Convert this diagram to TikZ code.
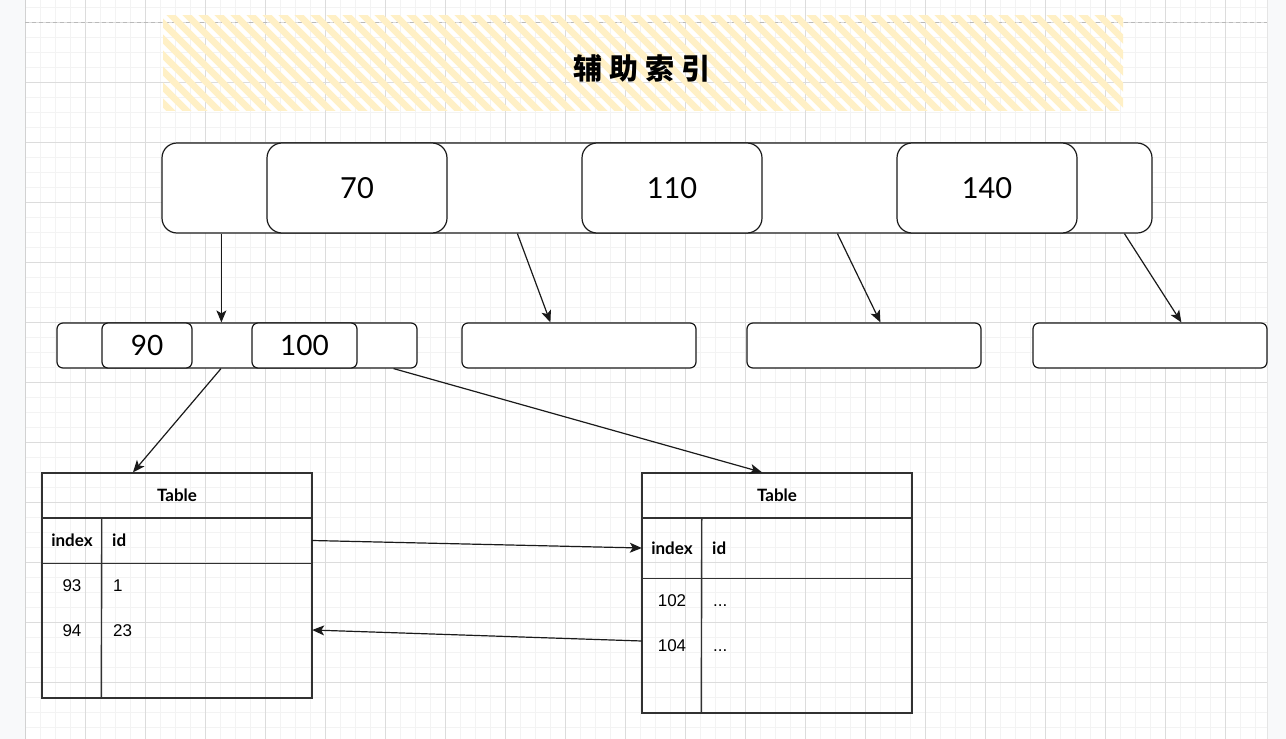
\documentclass[tikz,border=0pt]{standalone}
\usepackage{fontspec}
\setmainfont{Liberation Sans}
\newfontfamily\cjk{Noto Sans CJK SC}
\newfontfamily\sketch{Lato}
\usetikzlibrary{arrows.meta,calc}
\definecolor{gridminor}{HTML}{F3F3F3}
\definecolor{gridmajor}{HTML}{DCDCDC}
\definecolor{hatch}{HTML}{FFF0C6}
\definecolor{side}{HTML}{F8F9FA}
\definecolor{ink}{HTML}{1A1A1A}
\begin{document}
\begin{tikzpicture}[x=1pt,y=-1pt,
  keybox/.style={draw=ink, fill=white, line width=1.2pt, rounded corners=15pt,
    minimum height=90pt, inner sep=0pt, font=\sketch\fontsize{29}{34}\selectfont},
  leafbox/.style={draw=ink, fill=white, line width=1.2pt, rounded corners=6pt,
    minimum height=45pt, inner sep=0pt, font=\sketch\fontsize{28}{32}\selectfont},
  tablebox/.style={draw=ink!90, line width=1.4pt, inner sep=0pt},
  rowbox/.style={inner sep=0pt, minimum width=270pt},
  headtext/.style={font=\sketch\bfseries\fontsize{17}{20}\selectfont, inner sep=0pt},
  celltext/.style={font=\fontsize{17}{20}\selectfont, inner sep=0pt,
    text height=12.2pt, text depth=0pt},
  conn/.style={draw=ink, line width=1.2pt, -{Stealth[length=12pt,width=10pt,inset=3pt]}},
  tline/.style={draw=ink!90, line width=1.4pt}]
\useasboundingbox (0,0) rectangle (1286,739);

% page background and grid
\fill[white] (0,0) rectangle (1286,739);
\begin{scope}
  \clip (25,0) rectangle (1267,739);
  \foreach \x in {25,40,...,1270} \draw[gridminor, line width=0.8pt] (\x,0) -- (\x,739);
  \foreach \y in {7,22,...,745} \draw[gridminor, line width=0.8pt] (25,\y) -- (1267,\y);
  \foreach \x in {25,85,...,1270} \draw[gridmajor, line width=0.8pt] (\x,0) -- (\x,739);
  \foreach \y in {22,82,...,745} \draw[gridmajor, line width=0.8pt] (25,\y) -- (1267,\y);
\end{scope}
\fill[side] (0,0) rectangle (25,739);
\fill[side] (1267,0) rectangle (1286,739);
\draw[gray!35, line width=1.6pt] (25.5,0) -- (25.5,739);
\draw[gray!20, line width=1pt] (1267,0) -- (1267,739);
\draw[gray!55, line width=1pt, dash pattern=on 4pt off 3pt] (25,22.5) -- (1267,22.5);

% hatched title band
\begin{scope}
  \clip (163,15) rectangle (1123,110);
  \foreach \a in {52,68,...,1130}
    \draw[hatch, line width=6.5pt, line cap=round] (\a,8) -- (\a+110,118);
\end{scope}
\node[font=\cjk\bfseries\fontsize{29}{34}\selectfont, inner sep=0pt] (title) at (642,68)
  {辅\hspace{7pt}助\hspace{7pt}索\hspace{7pt}引};

% root node with its keys
\node[keybox, minimum width=990pt] (top) at (657,188) {};
\node[keybox, minimum width=180pt] (k70) at (357,188) {70};
\node[keybox, minimum width=180pt] (k110) at (672,188) {110};
\node[keybox, minimum width=180pt] (k140) at (987,188) {140};

% second level
\node[leafbox, minimum width=360pt] (b1) at (237,345.5) {};
\node[leafbox, minimum width=90pt] (k90) at (147,345.5) {90};
\node[leafbox, minimum width=105pt] (k100) at (304.5,345.5) {100};
\node[leafbox, minimum width=234pt] (b2) at (579,345.5) {};
\node[leafbox, minimum width=234pt] (b3) at (864,345.5) {};
\node[leafbox, minimum width=234pt] (b4) at (1150,345.5) {};

% table one
\node[tablebox, minimum width=270pt, minimum height=225pt] (t1) at (177,585.5) {};
\node[rowbox, minimum height=45pt] (t1hdr) at (177,540.5) {};
\node[rowbox, minimum height=45pt] (t1r1) at (177,585) {};
\node[rowbox, minimum height=45pt] (t1r2) at (177,630) {};
\draw[tline] (t1hdr.north west) -- (t1hdr.north east);
\draw[tline] (t1hdr.south west) -- (t1hdr.south east);
\draw[tline] ([xshift=60pt]t1hdr.north west) -- ([xshift=60pt]t1.south west);
\node[headtext] (t1title) at (177,495.5) {Table};
\node[headtext] (t1ix) at (72,540.5) {index};
\node[headtext, anchor=west] (t1id) at (112,540.5) {id};
\node[celltext] (t1a) at (72,585) {93};
\node[celltext, anchor=west] (t1b) at (113,585) {1};
\node[celltext] (t1c) at (72,630) {94};
\node[celltext, anchor=west] (t1d) at (113,630) {23};

% table two
\node[tablebox, minimum width=270pt, minimum height=240pt] (t2) at (777,593) {};
\node[rowbox, minimum height=60pt] (t2hdr) at (777,548) {};
\node[rowbox, minimum height=45pt] (t2r1) at (777,600) {};
\node[rowbox, minimum height=45pt] (t2r2) at (777,641) {};
\draw[tline] (t2hdr.north west) -- (t2hdr.north east);
\draw[tline] (t2hdr.south west) -- (t2hdr.south east);
\draw[tline] ([xshift=60pt]t2hdr.north west) -- ([xshift=60pt]t2.south west);
\node[headtext] (t2title) at (777,495.5) {Table};
\node[headtext] (t2ix) at (672,548) {index};
\node[headtext, anchor=west] (t2id) at (712,548) {id};
\node[celltext] (t2a) at (672,600) {102};
\node[celltext, anchor=west] (t2b) at (713,600) {...};
\node[celltext] (t2c) at (672,645) {104};
\node[celltext, anchor=west] (t2d) at (713,645) {...};

% connectors
\draw[conn] ([xshift=60pt]top.south west) -- ([xshift=165pt]b1.north west);
\draw[conn] ([xshift=356pt]top.south west) -- ([xshift=89pt]b2.north west);
\draw[conn] ([xshift=676pt]top.south west) -- ([xshift=134pt]b3.north west);
\draw[conn] ([xshift=963pt]top.south west) -- ([xshift=149pt]b4.north west);
\draw[conn] ([xshift=-16pt]b1.south) -- ([xshift=-44pt]t1.north);
\draw[conn] ([xshift=-24pt]b1.south east) -- ([xshift=-15pt]t2.north);
\draw[conn] (t1hdr.east) -- (t2hdr.west);
\draw[conn] (t2r2.west) -- (t1r2.east);
\end{tikzpicture}
\end{document}
